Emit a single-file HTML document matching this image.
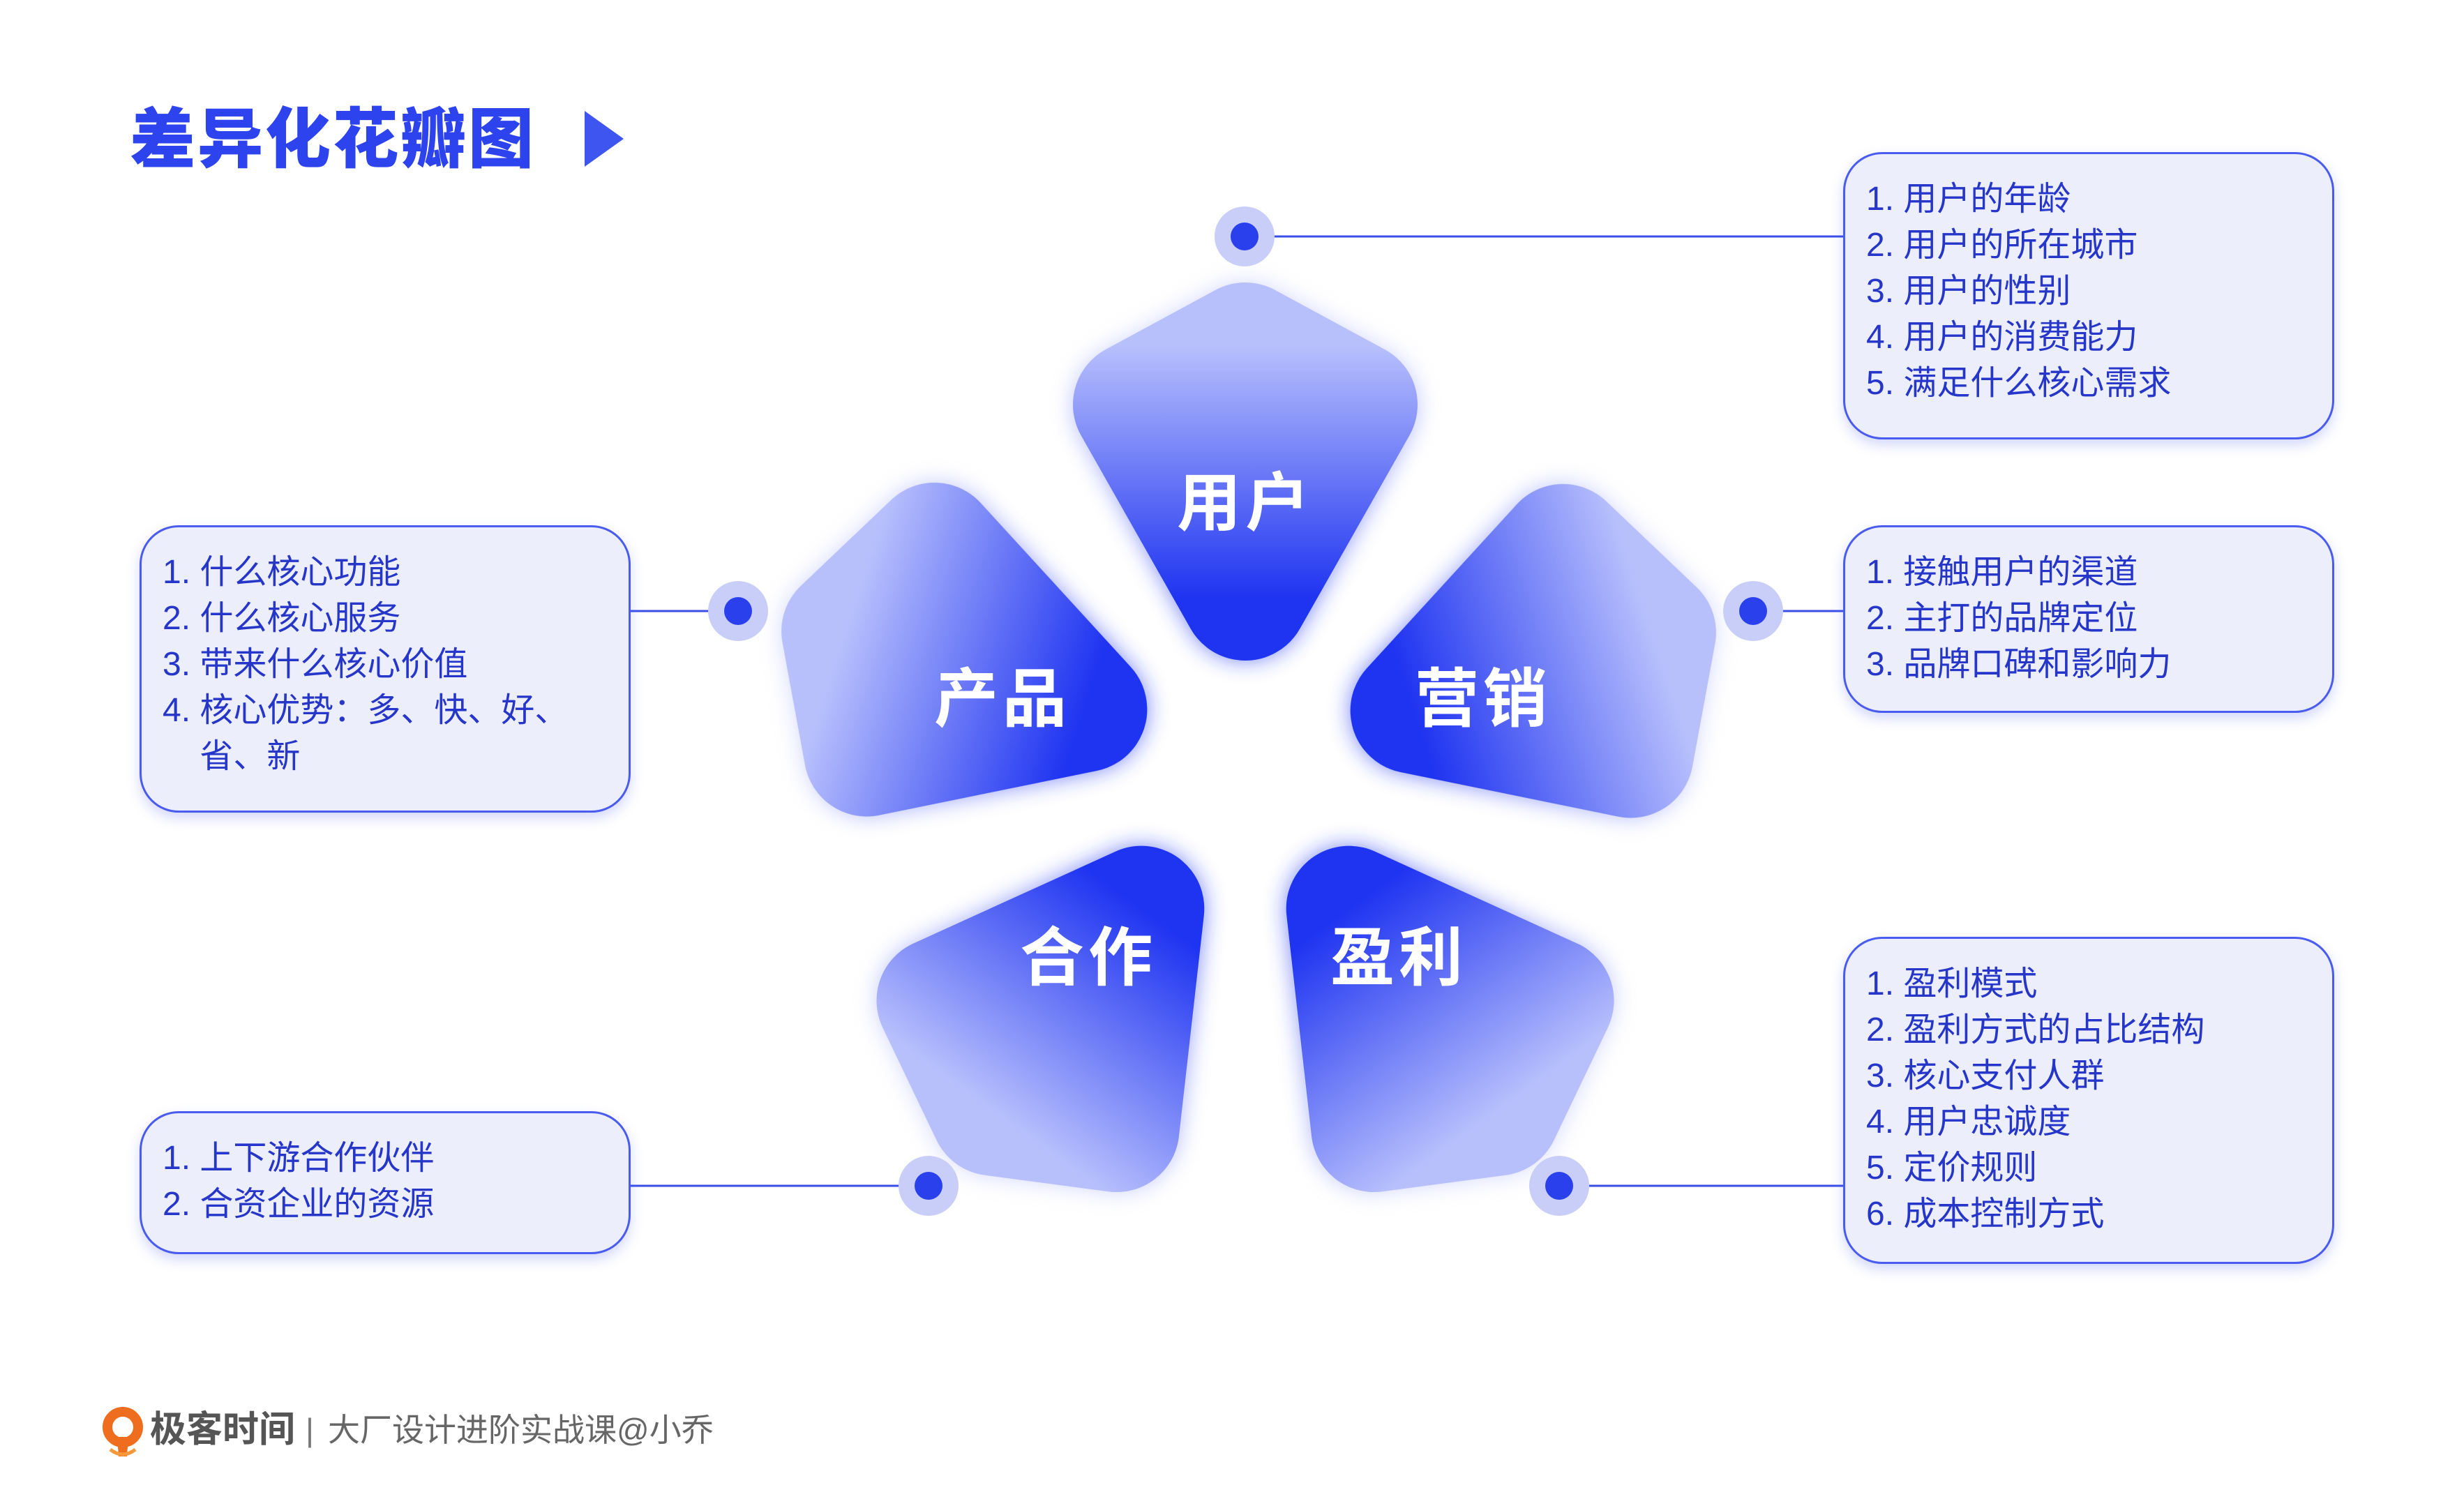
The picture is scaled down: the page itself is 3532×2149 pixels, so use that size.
<!DOCTYPE html>
<html><head><meta charset="utf-8"><style>
*{margin:0;padding:0}
body{width:3532px;height:2149px;background:#fff;position:relative;overflow:hidden;font-family:"Liberation Sans","Noto Sans CJK SC",sans-serif}
.title{position:absolute;left:186px;top:100px;font-size:94px;font-weight:900;color:#2c43ee;letter-spacing:3px;line-height:200px}
.box{position:absolute;background:#eceefc;border:3px solid #4a5cf0;border-radius:56px;box-shadow:0 8px 18px rgba(80,100,240,.25);box-sizing:border-box;padding:32px 0 0 30px;color:#2536c8;font-size:48px;line-height:66px}
.foot{position:absolute;top:2000px;font-size:50px;line-height:100px;color:#555}
</style></head><body>
<div class="title">差异化花瓣图</div>
<svg style="position:absolute;left:0;top:0" width="3532" height="2149">
<defs>
<linearGradient id="g" x1="0" y1="0" x2="0" y2="1"><stop offset="0" stop-color="#b8c0fc"/><stop offset="1" stop-color="#1f34f1"/></linearGradient>
<filter id="bl"><feGaussianBlur stdDeviation="16"/></filter>
<g id="petal"><polygon points="1765,495 1608,580 1765,857 1922,580" fill="url(#g)" stroke="url(#g)" stroke-width="180" stroke-linejoin="round"/></g>
</defs>
<polygon points="838,159 894,199 838,239" fill="#3f55ef"/>
<g transform="translate(20,0)">
<g fill="#aab3fa" opacity="0.6" filter="url(#bl)">
<use href="#petal"/>
<g transform="translate(0,-13)"><use href="#petal" transform="rotate(72 1765 1110)"/></g>
<g transform="translate(10,-15)"><use href="#petal" transform="rotate(-72 1765 1110)"/></g>
<g transform="translate(0,-12)"><use href="#petal" transform="rotate(144 1765 1110)"/><use href="#petal" transform="rotate(-144 1765 1110)"/></g>
</g>
<use href="#petal"/>
<g transform="translate(0,-13)"><use href="#petal" transform="rotate(72 1765 1110)"/></g>
<g transform="translate(10,-15)"><use href="#petal" transform="rotate(-72 1765 1110)"/></g>
<g transform="translate(0,-12)"><use href="#petal" transform="rotate(144 1765 1110)"/><use href="#petal" transform="rotate(-144 1765 1110)"/></g>
</g>
<g stroke="#3a4ee8" stroke-width="3">
<line x1="1784" y1="339" x2="2642" y2="339"/><line x1="904" y1="876" x2="1058" y2="876"/><line x1="2513" y1="876" x2="2642" y2="876"/><line x1="904" y1="1700" x2="1331" y2="1700"/><line x1="2235" y1="1700" x2="2642" y2="1700"/>
</g>
<g>
<circle cx="1784" cy="339" r="43" fill="#c9cef9"/><circle cx="1784" cy="339" r="20" fill="#2a40ec"/>
<circle cx="1058" cy="876" r="43" fill="#c9cef9"/><circle cx="1058" cy="876" r="20" fill="#2a40ec"/>
<circle cx="2513" cy="876" r="43" fill="#c9cef9"/><circle cx="2513" cy="876" r="20" fill="#2a40ec"/>
<circle cx="1331" cy="1700" r="43" fill="#c9cef9"/><circle cx="1331" cy="1700" r="20" fill="#2a40ec"/>
<circle cx="2235" cy="1700" r="43" fill="#c9cef9"/><circle cx="2235" cy="1700" r="20" fill="#2a40ec"/>
</g>
<g fill="#fff" font-size="92" font-weight="bold" text-anchor="middle" font-family="Liberation Sans,Noto Sans CJK SC,sans-serif" letter-spacing="6">
<text x="1785" y="753">用户</text><text x="1437" y="1034">产品</text><text x="2126" y="1034">营销</text><text x="1560" y="1405">合作</text><text x="2005" y="1405">盈利</text>
</g>
<circle cx="176" cy="2046" r="22" fill="none" stroke="#ef6d1e" stroke-width="14"/>
<path d="M168,2060 L184,2060 L182,2088 L170,2088Z" fill="#ef6d1e"/>
<path d="M158,2078 Q176,2092 194,2078" fill="none" stroke="#f59a3c" stroke-width="5"/>
</svg>
<div class="box" style="left:2642px;top:218px;width:704px;height:412px">1. 用户的年龄<br>2. 用户的所在城市<br>3. 用户的性别<br>4. 用户的消费能力<br>5. 满足什么核心需求</div>
<div class="box" style="left:2642px;top:753px;width:704px;height:269px">1. 接触用户的渠道<br>2. 主打的品牌定位<br>3. 品牌口碑和影响力</div>
<div class="box" style="left:2642px;top:1343px;width:704px;height:469px">1. 盈利模式<br>2. 盈利方式的占比结构<br>3. 核心支付人群<br>4. 用户忠诚度<br>5. 定价规则<br>6. 成本控制方式</div>
<div class="box" style="left:200px;top:753px;width:704px;height:412px">1. 什么核心功能<br>2. 什么核心服务<br>3. 带来什么核心价值<br>4. 核心优势：多、快、好、<br>&nbsp;&nbsp;&nbsp;&nbsp;省、新</div>
<div class="box" style="left:200px;top:1593px;width:704px;height:205px">1. 上下游合作伙伴<br>2. 合资企业的资源</div>
<div class="foot" style="left:215px;font-weight:bold;font-size:52px;color:#555">极客时间</div>
<div class="foot" style="left:438px;color:#777;font-size:46px">|</div>
<div class="foot" style="left:470px;color:#666;font-size:46px">大厂设计进阶实战课@小乔</div>
</body></html>
